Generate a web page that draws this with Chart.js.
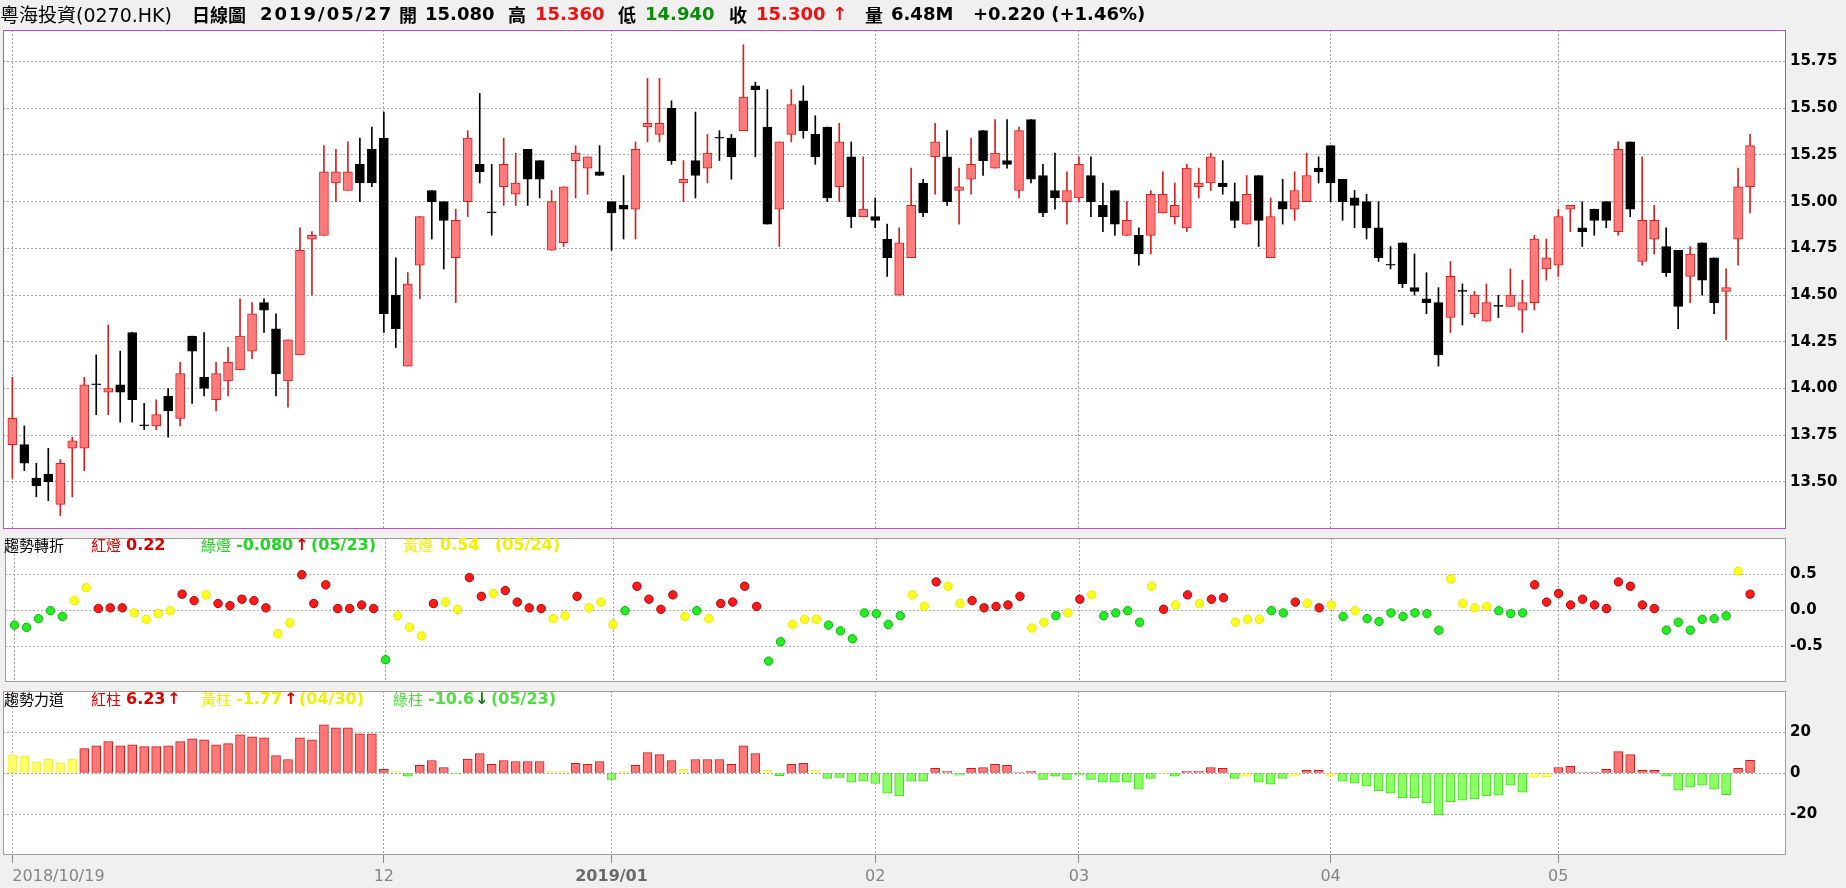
<!DOCTYPE html>
<html>
<head>
<meta charset="UTF-8">
<title>粵海投資(0270.HK) 日線圖</title>
<script src="https://cdn.jsdelivr.net/npm/chart.js"></script>
<style>
  html, body { margin: 0; padding: 0; }
  body { width: 1846px; height: 888px; background: #f0f0f0; position: relative; overflow: hidden; font-family: "DejaVu Sans", sans-serif; }
  canvas { position: absolute; left: 0; }
  .t { position: absolute; white-space: nowrap; line-height: 1; z-index: 5; }
  .hd { top: 5px; font-size: 18px; font-weight: bold; color: #000; }
  .zh { font-family: "Noto Sans CJK TC", sans-serif; }
  .lg { font-size: 15px; }
  .num { font-size: 16px; font-weight: bold; }
  .red { color: #e00000; }
  .grn { color: #1fd81f; }
  .grn2 { color: #4ede3e; }
  .dgrn { color: #0a7d0a; }
  .yel { color: #f0f000; }
</style>
</head>
<body>

<!-- header -->
<div class="t" style="left:0;top:4px;font-size:19px;"><span class="zh">粵海投資</span>(0270.HK)</div>
<div class="t hd zh" style="left:192px;">日線圖</div>
<div class="t hd" style="left:260px;letter-spacing:2px;">2019/05/27</div>
<div class="t hd zh" style="left:399px;">開</div>
<div class="t hd" style="left:425px;">15.080</div>
<div class="t hd zh" style="left:508px;">高</div>
<div class="t hd" style="left:535px;color:#f01010;">15.360</div>
<div class="t hd zh" style="left:618px;">低</div>
<div class="t hd" style="left:645px;color:#0b8a0b;">14.940</div>
<div class="t hd zh" style="left:729px;">收</div>
<div class="t hd" style="left:756px;color:#f01010;">15.300</div>
<div class="t hd" style="left:832px;color:#f01010;">↑</div>
<div class="t hd zh" style="left:865px;">量</div>
<div class="t hd" style="left:891px;">6.48M</div>
<div class="t hd" style="left:973px;">+0.220 (+1.46%)</div>

<!-- trend turn legend -->
<div class="t zh lg" style="left:4px;top:537px;">趨勢轉折</div>
<div class="t zh lg red" style="left:91px;top:537px;">紅燈</div>
<div class="t num red" style="left:126px;top:537px;">0.22</div>
<div class="t zh lg grn" style="left:201px;top:537px;">綠燈</div>
<div class="t num grn" style="left:236px;top:537px;">-0.080</div>
<div class="t num red" style="left:295px;top:537px;">↑</div>
<div class="t num grn" style="left:311px;top:537px;">(05/23)</div>
<div class="t zh lg yel" style="left:403px;top:537px;">黃燈</div>
<div class="t num yel" style="left:440px;top:537px;">0.54</div>
<div class="t num yel" style="left:495px;top:537px;">(05/24)</div>

<!-- trend power legend -->
<div class="t zh lg" style="left:4px;top:691px;">趨勢力道</div>
<div class="t zh lg red" style="left:91px;top:691px;">紅柱</div>
<div class="t num red" style="left:126px;top:691px;">6.23</div>
<div class="t num red" style="left:167px;top:691px;">↑</div>
<div class="t zh lg yel" style="left:201px;top:691px;">黃柱</div>
<div class="t num yel" style="left:236px;top:691px;">-1.77</div>
<div class="t num red" style="left:284px;top:691px;">↑</div>
<div class="t num yel" style="left:299px;top:691px;">(04/30)</div>
<div class="t zh lg grn2" style="left:393px;top:691px;">綠柱</div>
<div class="t num grn2" style="left:428px;top:691px;">-10.6</div>
<div class="t num dgrn" style="left:475px;top:691px;">↓</div>
<div class="t num grn2" style="left:491px;top:691px;">(05/23)</div>

<canvas id="priceChart" width="1846" height="525" style="top:17px;"></canvas>
<canvas id="turnChart" width="1846" height="170" style="top:525px;"></canvas>
<canvas id="powerChart" width="1846" height="210" style="top:678px;"></canvas>

<script>
// daily candles, 2018/10/19 .. 2019/05/27 (index = trading day)
const opens = [
  13.70,13.70,13.52,13.54,13.38,13.68,13.68,14.02,13.98,14.02,
  14.30,13.80,13.80,13.96,13.84,14.28,14.06,13.94,14.04,14.10,
  14.20,14.46,14.32,14.04,14.18,14.80,14.82,15.10,15.06,15.20,
  15.28,15.34,14.50,14.12,14.66,15.06,15.00,14.70,15.00,15.20,
  14.94,15.08,15.04,15.28,15.22,14.74,14.78,15.22,15.18,15.16,
  15.00,14.98,14.96,15.40,15.36,15.50,15.10,15.22,15.18,15.34,
  15.34,15.38,15.62,15.40,14.96,15.36,15.54,15.36,15.40,15.08,
  15.24,14.92,14.92,14.80,14.50,14.70,15.10,15.24,15.24,15.06,
  15.12,15.38,15.18,15.22,15.06,15.44,15.14,15.06,15.00,15.02,
  15.14,14.98,15.06,14.82,14.82,14.82,14.94,14.92,14.86,15.08,
  15.10,15.10,15.00,14.88,15.14,14.70,15.00,14.96,15.00,15.18,
  15.30,15.12,15.02,15.00,14.86,14.66,14.78,14.54,14.48,14.46,
  14.38,14.52,14.40,14.36,14.44,14.44,14.42,14.46,14.64,14.66,
  14.96,14.86,14.96,15.00,14.84,15.32,14.68,14.80,14.76,14.74,
  14.60,14.78,14.70,14.52,14.80,15.08
];
const highs = [
  14.06,13.80,13.60,13.68,13.62,13.74,14.06,14.18,14.34,14.20,
  14.30,13.92,13.94,14.00,14.14,14.28,14.30,14.14,14.22,14.48,
  14.46,14.48,14.40,14.26,14.86,14.84,15.30,15.28,15.32,15.34,
  15.40,15.48,14.70,14.62,14.92,15.06,15.00,14.96,15.38,15.58,
  15.20,15.34,15.26,15.28,15.22,15.06,15.08,15.30,15.24,15.30,
  15.00,15.14,15.32,15.66,15.66,15.54,15.22,15.48,15.36,15.38,
  15.36,15.84,15.64,15.60,15.32,15.60,15.62,15.46,15.40,15.42,
  15.32,15.24,15.02,14.88,14.86,15.18,15.12,15.42,15.38,15.18,
  15.34,15.38,15.44,15.44,15.40,15.44,15.20,15.26,15.16,15.24,
  15.24,15.10,15.06,15.00,14.86,15.06,15.16,15.10,15.20,15.18,
  15.26,15.22,15.10,15.14,15.14,15.02,15.12,15.16,15.26,15.24,
  15.30,15.12,15.06,15.04,15.00,14.76,14.78,14.72,14.62,14.54,
  14.68,14.56,14.52,14.56,14.50,14.64,14.58,14.82,14.80,14.96,
  14.98,15.00,14.96,15.00,15.32,15.32,15.24,14.98,14.86,14.74,
  14.76,14.78,14.70,14.64,15.18,15.36
];
const lows = [
  13.52,13.56,13.42,13.40,13.32,13.42,13.56,13.86,13.86,13.82,
  13.82,13.78,13.78,13.74,13.80,13.92,13.96,13.88,13.96,14.10,
  14.16,14.30,13.96,13.90,14.18,14.50,14.82,15.00,15.06,15.00,
  15.08,14.30,14.22,14.12,14.48,14.80,14.64,14.46,14.92,15.10,
  14.82,14.98,14.98,14.98,15.02,14.74,14.76,15.02,15.04,15.14,
  14.74,14.80,14.80,15.32,15.32,15.20,15.00,15.02,15.10,15.22,
  15.12,15.38,15.24,14.88,14.76,15.32,15.34,15.20,15.00,15.00,
  14.86,14.92,14.86,14.60,14.50,14.70,14.92,15.04,14.98,14.88,
  15.04,15.14,15.18,15.18,15.02,15.10,14.92,14.96,14.88,15.00,
  14.92,14.84,14.82,14.82,14.66,14.72,14.94,14.88,14.84,15.02,
  15.06,15.04,14.86,14.88,14.76,14.70,14.88,14.90,15.00,15.10,
  15.00,14.90,14.86,14.80,14.68,14.64,14.54,14.50,14.40,14.12,
  14.30,14.34,14.38,14.36,14.38,14.44,14.30,14.42,14.58,14.60,
  14.84,14.76,14.82,14.86,14.82,14.92,14.66,14.72,14.60,14.32,
  14.46,14.50,14.40,14.26,14.66,14.94
];
const closes = [
  13.84,13.60,13.48,13.50,13.60,13.72,14.02,14.02,14.00,13.98,
  13.94,13.80,13.86,13.88,14.08,14.20,14.00,14.08,14.14,14.28,
  14.40,14.42,14.08,14.26,14.74,14.82,15.16,15.16,15.16,15.10,
  15.10,14.40,14.32,14.56,14.92,15.00,14.90,14.90,15.34,15.16,
  14.94,15.20,15.10,15.12,15.12,15.00,15.08,15.26,15.24,15.14,
  14.94,14.96,15.28,15.42,15.42,15.22,15.12,15.14,15.26,15.34,
  15.24,15.56,15.60,14.88,15.32,15.52,15.38,15.24,15.02,15.32,
  14.92,14.96,14.90,14.70,14.78,14.98,14.94,15.32,15.00,15.08,
  15.20,15.22,15.26,15.20,15.38,15.12,14.94,15.02,15.06,15.20,
  15.00,14.92,14.88,14.90,14.72,15.04,15.04,14.98,15.18,15.10,
  15.24,15.08,14.90,15.04,14.90,14.92,14.96,15.06,15.14,15.16,
  15.10,15.00,14.98,14.86,14.70,14.66,14.56,14.52,14.46,14.18,
  14.60,14.52,14.50,14.46,14.44,14.50,14.46,14.80,14.70,14.92,
  14.98,14.84,14.90,14.90,15.28,14.96,14.90,14.90,14.62,14.44,
  14.72,14.58,14.46,14.54,15.08,15.30
];

// 趨勢轉折 (trend turn) dots and their light colour: r / g / y
const turnValues = [
  -0.21,-0.24,-0.12,-0.01,-0.09,0.13,0.31,0.02,0.03,0.03,
  -0.04,-0.13,-0.05,-0.01,0.22,0.13,0.21,0.09,0.06,0.15,
  0.13,0.03,-0.33,-0.18,0.49,0.09,0.35,0.02,0.02,0.07,
  0.02,-0.69,-0.08,-0.24,-0.36,0.09,0.11,0.01,0.45,0.19,
  0.23,0.27,0.11,0.03,0.02,-0.12,-0.08,0.19,0.03,0.11,
  -0.20,-0.01,0.33,0.15,0.01,0.21,-0.09,-0.01,-0.12,0.09,
  0.11,0.33,0.05,-0.71,-0.44,-0.20,-0.13,-0.13,-0.21,-0.29,
  -0.40,-0.04,-0.05,-0.20,-0.08,0.21,0.05,0.39,0.33,0.09,
  0.13,0.03,0.05,0.07,0.19,-0.25,-0.17,-0.08,-0.04,0.15,
  0.21,-0.08,-0.04,-0.01,-0.17,0.33,0.01,0.07,0.21,0.09,
  0.15,0.17,-0.17,-0.13,-0.13,-0.01,-0.04,0.11,0.09,0.03,
  0.07,-0.09,-0.01,-0.12,-0.16,-0.04,-0.09,-0.04,-0.05,-0.28,
  0.43,0.09,0.03,0.05,-0.01,-0.05,-0.04,0.35,0.11,0.23,
  0.07,0.15,0.07,0.02,0.39,0.33,0.07,0.02,-0.28,-0.17,
  -0.28,-0.13,-0.12,-0.08,0.54,0.22
];
const turnLights = (
  'gggggyyrrr' + 'yyyyrryrrr' + 'rryyrrrrrr' + 'rgyyyryyrr' + 'yrrrryyryy' +
  'ygrrrrygyr' + 'rrrggyyygg' + 'gggggyyryy' + 'rrrrryygyr' + 'yggggyryry' +
  'rryyyggryr' + 'ygyggggggg' + 'yyyygggrrr' + 'rrrrrrrrgg' + 'ggggyr'
).split('');

// 趨勢力道 (trend power) bars and their colour: r / g / y
const powerValues = [
  8.7,8.2,5.3,6.8,4.8,6.8,11.9,13.3,15.3,13.3,
  13.8,12.9,12.9,13.3,15.3,16.7,16.2,13.8,14.3,18.6,
  17.7,17.2,8.5,6.6,17.2,16.2,23.5,22.0,22.0,19.1,
  19.1,1.8,0.8,-1.6,3.7,6.1,2.7,-0.6,6.8,9.5,
  4.2,6.1,5.6,5.6,5.6,0.8,0.8,4.7,4.2,5.6,
  -3.1,0.8,3.7,10.0,9.0,6.1,1.8,6.6,6.6,6.6,
  4.2,13.3,9.5,1.3,-1.3,4.2,4.7,1.3,-2.6,-2.1,
  -4.5,-4.0,-5.1,-9.8,-11.2,-4.0,-4.0,2.3,0.8,-1.1,
  2.3,2.7,4.2,3.7,0.3,0.8,-3.1,-1.6,-3.1,-1.1,
  -3.1,-4.5,-4.5,-4.5,-7.9,-2.6,-0.5,-1.6,0.8,0.8,
  2.7,2.3,-2.6,-1.6,-4.5,-5.5,-2.6,-1.6,1.3,1.3,
  -1.6,-4.0,-5.0,-6.4,-8.8,-9.8,-12.2,-12.2,-14.6,-20.4,
  -14.1,-13.2,-12.7,-11.2,-10.8,-5.9,-9.3,-2.1,-1.77,2.7,
  3.2,0.3,0.3,1.8,10.4,9.0,1.3,1.3,-1.6,-8.4,
  -6.9,-5.9,-7.9,-10.6,2.3,6.23
];
const powerColors = (
  'yyyyyyrrrr' + 'rrrrrrrrrr' + 'rrrrrrrrrr' + 'rrygrrrgrr' + 'rrrrryyrrr' +
  'gyrrrryrrr' + 'rrrygrrygg' + 'gggggggrrg' + 'rrrrrrgggg' + 'ggggggygrr' +
  'rrgygggyrr' + 'yggggggggg' + 'gggggggyyr' + 'rrrrrrrrgg' + 'ggggrr'
).split('');

// month ticks on the time axis
const monthIdx = [0, 31, 50, 72, 89, 110, 129];
const monthLabels = ['2018/10/19', '12', '2019/01', '02', '03', '04', '05'];

const priceTicks = [13.50, 13.75, 14.00, 14.25, 14.50, 14.75, 15.00, 15.25, 15.50, 15.75];
const turnTicks = [-0.5, 0, 0.5];
const powerTicks = [-20, 0, 20];

const X_MIN = -0.78, X_MAX = 148;
const GRID = '#a6a6a6';
const UP_FILL = '#ff7b7b', UP_LINE = '#d81f1f', DOWN = '#000000';

const idx = closes.map((_, i) => i);
const isUp = i => closes[i] > opens[i];

const lightFill = {r: '#ff1a1a', g: '#22ee22', y: '#ffff1e'};
const lightLine = {r: '#b80000', g: '#12b012', y: '#e8e800'};
const barFill = {r: '#ff7878', g: '#8cff66', y: '#ffff6a'};
const barLine = {r: '#d01818', g: '#44d822', y: '#eeee40'};

function panelFrame(color) {
  return {
    id: 'panelFrame',
    beforeDraw(chart) {
      const {ctx, chartArea: a} = chart;
      ctx.save();
      ctx.fillStyle = '#ffffff';
      ctx.fillRect(a.left, a.top, a.right - a.left, a.bottom - a.top);
      ctx.restore();
    },
    afterDraw(chart) {
      const {ctx, chartArea: a} = chart;
      ctx.save();
      ctx.strokeStyle = color;
      ctx.lineWidth = 1;
      ctx.strokeRect(Math.round(a.left) + 0.5, Math.round(a.top) + 0.5,
                     Math.round(a.right - a.left) - 1, Math.round(a.bottom - a.top) - 1);
      ctx.restore();
    }
  };
}

function xScale(showLabels) {
  const hidden = ctx => ctx.tick && ctx.tick.value === X_MAX;
  return {
    type: 'linear',
    min: X_MIN,
    max: X_MAX,
    offset: false,
    afterBuildTicks: s => {
      s.ticks = monthIdx.map(v => ({value: v}));
      if (showLabels) s.ticks.push({value: X_MAX});
    },
    afterFit: s => { s.height = showLabels ? 33 : 0; },
    border: {display: false, dash: [2, 2]},
    grid: {
      offset: false,
      color: ctx => hidden(ctx) ? 'rgba(0,0,0,0)' : GRID,
      drawTicks: showLabels,
      tickLength: 8,
      tickColor: ctx => hidden(ctx) ? 'rgba(0,0,0,0)' : '#8a8a8a',
      tickBorderDash: []
    },
    ticks: {
      display: showLabels,
      autoSkip: false,
      maxRotation: 0,
      align: 'inner',
      padding: 4,
      callback: (v, i) => monthLabels[i] !== undefined ? monthLabels[i] : '',
      font: ctx => ({family: 'DejaVu Sans', size: 16, weight: ctx.index === 2 ? 'bold' : 'normal'}),
      color: ctx => ctx.index === 2 ? '#6a6a6a' : '#858585'
    }
  };
}

function yScale(min, max, ticksArr, digits) {
  return {
    position: 'right',
    min: min,
    max: max,
    afterBuildTicks: s => { s.ticks = ticksArr.map(v => ({value: v})); },
    afterFit: s => { s.width = 60; },
    border: {display: false, dash: [2, 2]},
    grid: {color: GRID, drawTicks: false},
    ticks: {
      padding: 4,
      color: '#000',
      font: {family: 'DejaVu Sans', size: 15, weight: 'bold'},
      callback: v => Number(v).toFixed(digits)
    }
  };
}

function baseOptions(scales, padBottom) {
  return {
    responsive: false,
    animation: false,
    events: [],
    layout: {padding: {left: 3, right: 0, top: 10, bottom: padBottom}},
    plugins: {legend: {display: false}, tooltip: {enabled: false}},
    scales: scales
  };
}

// price panel: bodies first (drawn on top), wicks behind
new Chart(document.getElementById('priceChart'), {
  type: 'bar',
  data: {
    datasets: [
      {
        data: idx.map(i => ({x: i, y: [opens[i], closes[i]]})),
        backgroundColor: idx.map(i => isUp(i) ? UP_FILL : DOWN),
        borderColor: idx.map(i => isUp(i) ? UP_LINE : DOWN),
        borderWidth: 1,
        borderSkipped: false,
        barThickness: 9,
        minBarLength: 1,
        grouped: false
      },
      {
        data: idx.map(i => ({x: i, y: [lows[i], highs[i]]})),
        backgroundColor: idx.map(i => isUp(i) ? UP_LINE : DOWN),
        borderWidth: 0,
        barThickness: 1,
        grouped: false
      }
    ]
  },
  options: baseOptions({x: xScale(false), y: yScale(13.248, 15.919, priceTicks, 2)}, 10),
  plugins: [panelFrame('#c449c6')]
});

new Chart(document.getElementById('turnChart'), {
  type: 'scatter',
  data: {
    datasets: [{
      data: idx.map(i => ({x: i, y: turnValues[i]})),
      pointRadius: 4.2,
      pointBorderWidth: 1,
      pointBackgroundColor: turnLights.map(c => lightFill[c]),
      pointBorderColor: turnLights.map(c => lightLine[c])
    }]
  },
  options: baseOptions({x: xScale(false), y: yScale(-1, 1, turnTicks, 1)}, 10),
  plugins: [panelFrame('#a39d92')]
});

new Chart(document.getElementById('powerChart'), {
  type: 'bar',
  data: {
    datasets: [{
      data: idx.map(i => ({x: i, y: powerValues[i]})),
      backgroundColor: powerColors.map(c => barFill[c]),
      borderColor: powerColors.map(c => barLine[c]),
      borderWidth: 1,
      borderSkipped: false,
      barThickness: 9,
      minBarLength: 1
    }]
  },
  options: baseOptions({x: xScale(true), y: yScale(-40, 40, powerTicks, 0)}, 0),
  plugins: [panelFrame('#a39d92')]
});
</script>
</body>
</html>
